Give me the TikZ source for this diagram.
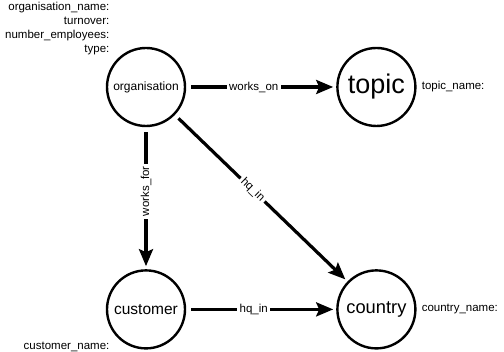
\documentclass[tikz,border=0pt]{standalone}
\usepackage{fontspec}
\setmainfont{Liberation Sans}
\usetikzlibrary{
  arrows.meta,
  positioning
}
\tikzset{
  entity/.style={
    draw, circle, line width=2.4pt, minimum size=78pt, inner sep=0pt
  },
  attr/.style={font=\fontsize{11.5}{14}\selectfont, inner sep=0pt},
  rel/.style={-{Stealth[length=17pt, width=14pt, inset=3pt]}, line width=3.2pt, shorten <=5pt, shorten >=3pt},
  rellabel/.style={font=\fontsize{11.5}{14}\selectfont, fill=white, inner sep=2.5pt, pos=0.45}
}

\begin{document}
\begin{tikzpicture}[x=1pt, y=1pt]
  \useasboundingbox (0,0) rectangle (504,352);
  \node[entity, font=\fontsize{12}{14}\selectfont] (org) at (146,265) {organisation};
  \node[entity, font=\fontsize{27}{30}\selectfont, right=150pt of org] (topic) {topic};
  \node[entity, font=\fontsize{15.5}{18}\selectfont, below=142pt of org] (cust) {customer};
  \node[entity, font=\fontsize{18.3}{20}\selectfont, right=150pt of cust] (country) {country};
  \draw[rel] (org) -- node[rellabel] {works\_on} (topic);
  \draw[rel] (org) -- node[rellabel, rotate=90] {works\_for} (cust);
  \draw[rel] (org) -- node[rellabel, sloped] {hq\_in} (country);
  \draw[rel] (cust) -- node[rellabel] {hq\_in} (country);
  \node[attr, align=right, anchor=south east] (orgattrs) at ([xshift=-8pt, yshift=3pt]org.north west)
    {organisation\_name:\\turnover:\\number\_employees:\\type:};
  \node[attr, right=5pt of topic] (topicattrs) {topic\_name:};
  \node[attr, right=5pt of country] (countryattrs) {country\_name:};
  \node[attr, anchor=north east] (custattrs) at ([xshift=-8pt, yshift=-4pt]cust.south west) {customer\_name:};
\end{tikzpicture}
\end{document}
